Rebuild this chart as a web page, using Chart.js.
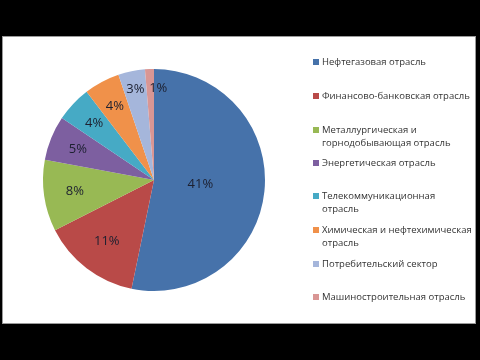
<!DOCTYPE html>
<html>
<head>
<meta charset="utf-8">
<script src="https://cdn.jsdelivr.net/npm/chart.js@4"></script>
<style>
    html, body { margin: 0; padding: 0; background: #000; }
    #wrap { position: relative; width: 480px; height: 360px; overflow: hidden; }
    #panel { position: absolute; left: 2px; top: 36px; width: 472px; height: 286px; background: #fff; border: 1px solid #9a9a9a; }
    #pie { position: absolute; left: 0; top: 0; }
    #legend { position: absolute; left: 0; top: 0; width: 480px; height: 360px; font-family: "Open Sans", sans-serif; font-size: 9.5px; color: #333; line-height: 13px; }
    .item { position: absolute; left: 313px; width: 160px; display: flex; }
    .box { width: 6px; height: 6px; margin-top: 3.5px; margin-right: 3px; flex: none; }
</style>
</head>
<body>
<div id="wrap">
    <div id="panel"></div>
    <canvas id="pie" width="480" height="360"></canvas>
    <div id="legend"></div>
</div>
<script>
// Sector names (legend order = slice order, clockwise from the top)
const SECTORS = [
    'Нефтегазовая отрасль',
    'Финансово-банковская отрасль',
    'Металлургическая и<br>горнодобывающая отрасль',
    'Энергетическая отрасль',
    'Телекоммуникационная<br>отрасль',
    'Химическая и нефтехимическая<br>отрасль',
    'Потребительский сектор',
    'Машиностроительная отрасль'
];

// Share of each sector, % (as labelled on the slices)
const SHARES = [41, 11, 8, 5, 4, 4, 3, 1];

// Slice colours (Excel 2007 palette)
const COLORS = ['#4672AA', '#B94A48', '#98B954', '#7D5FA0', '#46AAC5', '#F0914A', '#A5B6DB', '#D99694'];

// Legend layout: top of each entry in px
const LEGEND_TOP = [55, 89, 123, 156, 189, 223, 257, 290];

// Label placement: distance from centre (fraction of radius) and sideways nudge in px
const LABEL_RADIUS = [0.42, 0.70, 0.72, 0.74, 0.74, 0.75, 0.83, 0.83];
const LABEL_DX = [0, 0, 0, 0, 0, 0, 0, 8];

// Draws "NN%" inside every slice
const sliceLabels = {
    id: 'sliceLabels',
    afterDatasetsDraw(chart) {
        const ctx = chart.ctx;
        const meta = chart.getDatasetMeta(0);
        ctx.save();
        ctx.font = '13px "Open Sans", sans-serif';
        ctx.fillStyle = '#1d2030';
        ctx.textAlign = 'center';
        ctx.textBaseline = 'middle';
        meta.data.forEach((arc, i) => {
            const p = arc.getProps(['x', 'y', 'startAngle', 'endAngle', 'outerRadius'], true);
            const mid = (p.startAngle + p.endAngle) / 2;
            const r = p.outerRadius * LABEL_RADIUS[i];
            ctx.fillText(SHARES[i] + '%', p.x + Math.cos(mid) * r + LABEL_DX[i], p.y + Math.sin(mid) * r);
        });
        ctx.restore();
    }
};

new Chart(document.getElementById('pie').getContext('2d'), {
    type: 'pie',
    data: {
        labels: SECTORS,
        datasets: [{
            data: SHARES,
            backgroundColor: COLORS,
            borderWidth: 0
        }]
    },
    options: {
        responsive: false,
        animation: false,
        layout: { padding: { left: 43, right: 215, top: 69, bottom: 69 } },
        plugins: {
            legend: { display: false },
            tooltip: { enabled: false }
        }
    },
    plugins: [sliceLabels]
});

// HTML legend on the right
const legend = document.getElementById('legend');
SECTORS.forEach((name, i) => {
    const item = document.createElement('div');
    item.className = 'item';
    item.style.top = LEGEND_TOP[i] + 'px';
    item.innerHTML = '<span class="box" style="background:' + COLORS[i] + '"></span><span>' + name + '</span>';
    legend.appendChild(item);
});
</script>
</body>
</html>
